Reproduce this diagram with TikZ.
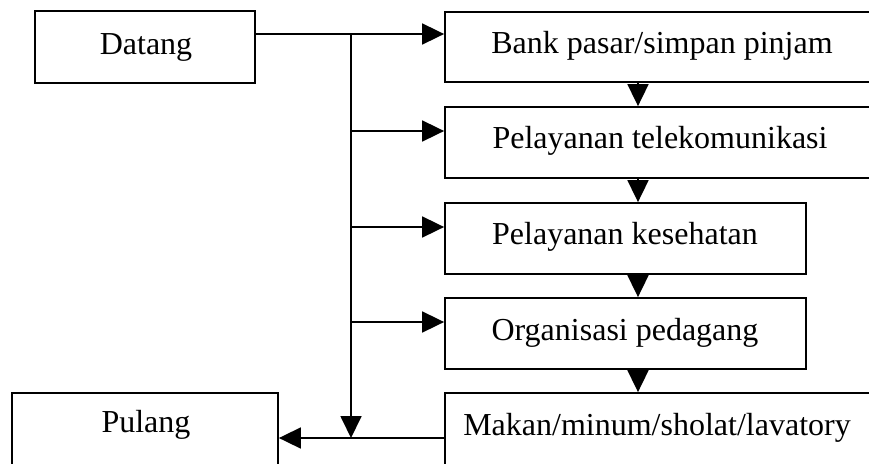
\documentclass[tikz,border=0pt]{standalone}
\usepackage{fontspec}
\setmainfont{Liberation Serif}
\usetikzlibrary{arrows.meta}
\tikzset{
  box/.style={draw, line width=1.8pt, rectangle, inner sep=0pt},
  lbl/.style={anchor=base, inner sep=0pt, font=\fontsize{32}{38}\selectfont},
  conn/.style={line width=1.8pt},
  arr/.style={conn, -{Triangle[length=22pt,width=21pt]}}
}
\begin{document}
\begin{tikzpicture}[x=1pt,y=-1pt]
\useasboundingbox (0,0) rectangle (869,463);
\clip (0,0) rectangle (869,463);
% boxes
\node[box, minimum width=220pt, minimum height=72pt] (datang) at (145,47) {};
\node[box, minimum width=434pt, minimum height=70pt] (b1) at (662,47) {};
\node[box, minimum width=430pt, minimum height=71pt] (b2) at (660,142.5) {};
\node[box, minimum width=361pt, minimum height=71pt] (b3) at (625.5,238.5) {};
\node[box, minimum width=361pt, minimum height=71pt] (b4) at (625.5,333.5) {};
\node[box, minimum width=426pt, minimum height=80pt] (b5) at (658,433) {};
\node[box, minimum width=266pt, minimum height=80pt] (pulang) at (145,433) {};
% texts
\node[lbl] (tdatang) at (146,54) {Datang};
\node[lbl] (t1) at (662,53) {Bank pasar/simpan pinjam};
\node[lbl] (t2) at (660,148) {Pelayanan telekomunikasi};
\node[lbl] (t3) at (625,244) {Pelayanan kesehatan};
\node[lbl] (t4) at (625,340) {Organisasi pedagang};
\node[lbl] (t5) at (657,435) {Makan/minum/sholat/lavatory};
\node[lbl] (tpulang) at (146,432) {Pulang};
% junction coordinates
\coordinate (j0) at (351,34);
\coordinate (j1) at (351,131);
\coordinate (j2) at (351,227);
\coordinate (j3) at (351,322);
\coordinate (j4) at (351,438);
\coordinate (col) at (638,0);
% connectors
\draw[arr] (datang.east |- j0) -- (b1.west |- j0);
\draw[arr] (j0) -- (j4);
\draw[arr] (j1) -- (b2.west |- j1);
\draw[arr] (j2) -- (b3.west |- j2);
\draw[arr] (j3) -- (b4.west |- j3);
\draw[arr] (b5.west |- j4) -- (pulang.east |- j4);
\draw[arr] (col |- b1.south) -- (col |- b2.north);
\draw[arr] (col |- b2.south) -- (col |- b3.north);
\draw[arr] (col |- b3.south) -- (col |- b4.north);
\draw[arr] (col |- b4.south) -- (col |- b5.north);
\end{tikzpicture}
\end{document}
